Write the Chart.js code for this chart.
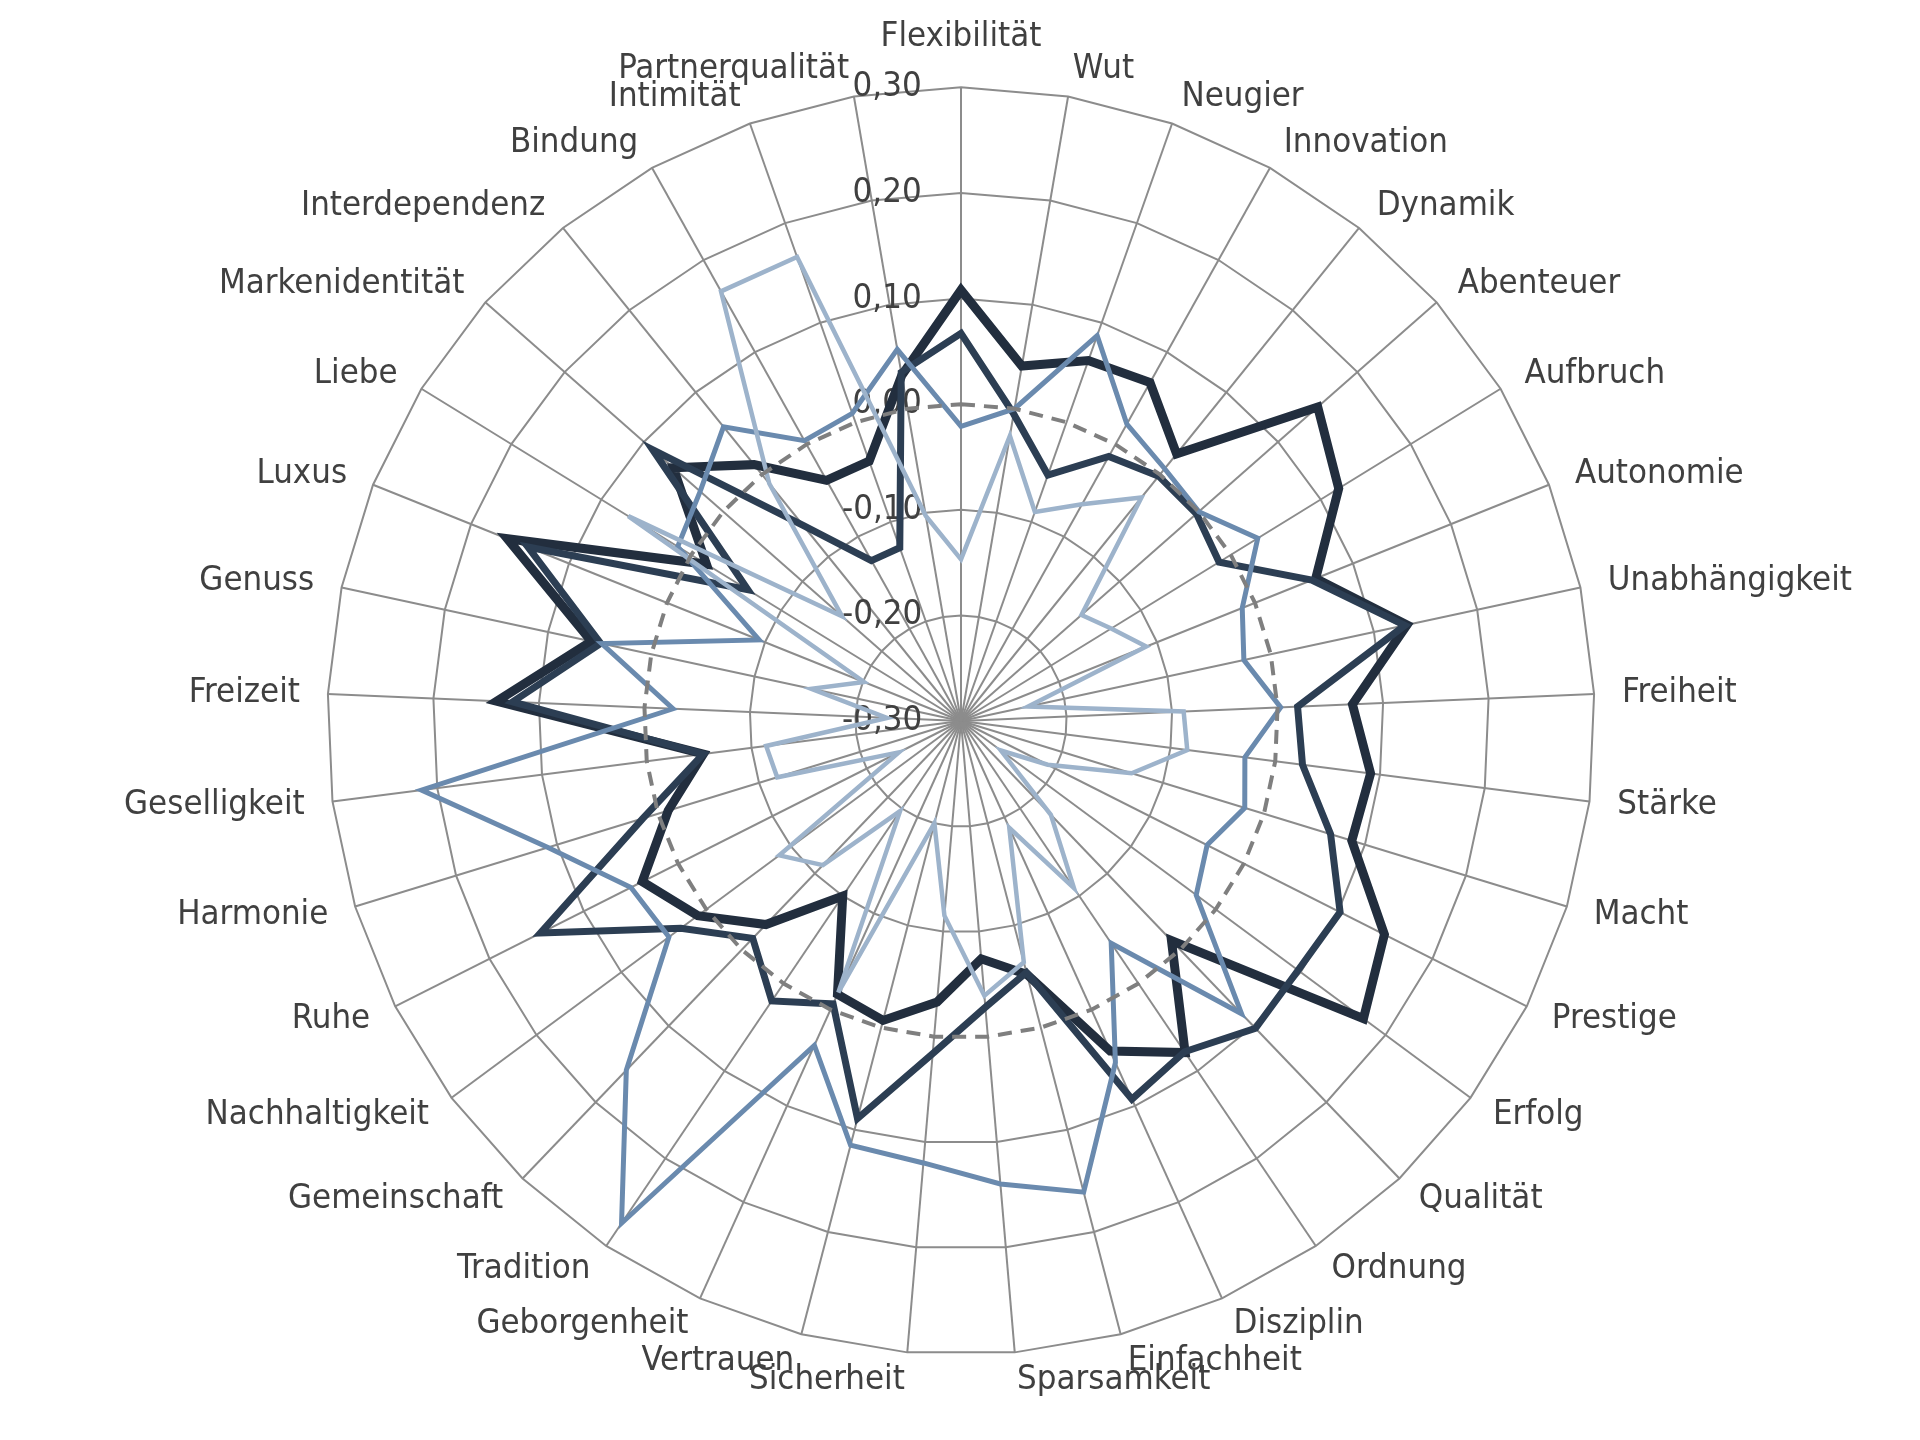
<!DOCTYPE html>
<html>
<head>
<meta charset="utf-8">
<title>Radar</title>
<script src="https://cdn.jsdelivr.net/npm/chart.js@4/dist/chart.umd.min.js"></script>
<style>
  html, body { margin: 0; padding: 0; background: #ffffff; overflow: hidden; }
  #c { display: block; }
</style>
</head>
<body>
<canvas id="c" width="1920" height="1440"></canvas>
<script>
// ---------------- data ----------------
const CATEGORIES = [
  'Flexibilität', 'Wut', 'Neugier', 'Innovation', 'Dynamik', 'Abenteuer', 'Aufbruch',
  'Autonomie', 'Unabhängigkeit', 'Freiheit', 'Stärke', 'Macht', 'Prestige', 'Erfolg',
  'Qualität', 'Ordnung', 'Disziplin', 'Einfachheit', 'Sparsamkeit', 'Sicherheit',
  'Vertrauen', 'Geborgenheit', 'Tradition', 'Gemeinschaft', 'Nachhaltigkeit', 'Ruhe',
  'Harmonie', 'Geselligkeit', 'Freizeit', 'Genuss', 'Luxus', 'Liebe', 'Markenidentität',
  'Interdependenz', 'Bindung', 'Intimität', 'Partnerqualität'
];

const SERIES_1 = [
  0.108, 0.041, 0.062, 0.067, 0.025, 0.150, 0.120, 0.062, 0.132, 0.071, 0.091, 0.087,
  0.149, 0.174, -0.012, 0.079, 0.043, -0.052, -0.074, -0.033, -0.007, -0.016, -0.100,
  -0.033, 0.010, 0.038, -0.010, -0.054, 0.140, 0.058, 0.163, -0.017, 0.063, 0.012,
  -0.039, -0.039, 0.032
];

const SERIES_2 = [
  0.067, -0.005, -0.053, -0.013, -0.002, -0.003, -0.013, 0.058, 0.130, 0.019, 0.026, 0.066,
  0.102, 0.097, 0.103, 0.078, 0.093, -0.054, -0.028, 0.016, 0.089, -0.006, 0.020,
  -0.015, 0.030, 0.146, 0.015, -0.054, 0.125, 0.049, 0.142, -0.063, 0.089, -0.062,
  -0.126, -0.126, 0.035
];

const SERIES_3 = [
  -0.021, 0.000, 0.087, 0.022, 0.007, 0.000, 0.030, -0.013, -0.026, 0.003, -0.029, -0.019,
  -0.039, -0.023, 0.084, -0.046, 0.055, 0.161, 0.140, 0.120, 0.115, 0.037, 0.274,
  0.158, 0.044, 0.050, 0.109, 0.215, -0.027, 0.048, -0.094, 0.015, 0.029, 0.058,
  0.004, 0.009, 0.057
];

const SERIES_4 = [
  -0.147, -0.026, -0.090, -0.065, -0.028, -0.148, -0.133, -0.111, -0.235, -0.089, -0.084, -0.131,
  -0.208, -0.253, -0.177, -0.109, -0.189, -0.064, -0.039, -0.115, -0.200, -0.018, -0.197,
  -0.111, -0.086, -0.234, -0.118, -0.114, -0.230, -0.155, -0.201, 0.070, -0.150, -0.011,
  0.166, 0.166, -0.103
];

const ZERO_LINE = [
  0, 0, 0, 0, 0, 0, 0, 0, 0, 0, 0, 0, 0, 0, 0, 0, 0, 0, 0,
  0, 0, 0, 0, 0, 0, 0, 0, 0, 0, 0, 0, 0, 0, 0, 0, 0, 0
];

const AXIS_MIN = -0.3;
const AXIS_MAX = 0.3;
const AXIS_STEP = 0.1;

// ---------------- font detection ----------------
function detectFont() {
  const c = document.createElement('canvas').getContext('2d');
  const s = 'Flexibilität Unabhängigkeit Partnerqualität';
  const widthOf = (f) => { c.font = f; return c.measureText(s).width; };
  const narrow = ['Liberation Sans Narrow', 'Arial Narrow', 'Nimbus Sans Narrow', 'DejaVu Sans Condensed', 'Roboto Condensed'];
  let fam = '"Liberation Sans", Arial, sans-serif';
  for (const f of narrow) {
    const a = widthOf('44px "' + f + '", monospace');
    const b = widthOf('44px "' + f + '", serif');
    if (Math.abs(a - b) < 0.5) { fam = '"' + f + '"'; break; }
  }
  c.font = '44px ' + fam;
  const w = c.measureText('Flexibilität').width;       // reference width ~162 px
  let size = Math.round(2 * 44 * 162 / w) / 2;
  size = Math.max(30, Math.min(44, size));
  return { family: fam, weight: 'normal', size: size };
}
const FONT = detectFont();
const TEXT_COLOR = '#404040';

// ---------------- geometry targets (reference picture) ----------------
const R_TARGET = 634;     // outer ring radius
const CX = 961, CY = 721; // centre
const LABEL_GAP = 28;     // label anchor distance beyond outer ring
const TOP_GAP = 50;       // top label (index 0) centre distance beyond outer ring
const E = (FONT.size + 4) / 2;           // tick backdrop half-height Chart.js adds to label distance
const P_OPT = LABEL_GAP - E;
const PF_OPT = TOP_GAP - E;
const D0 = Math.ceil(R_TARGET + PF_OPT);
const AREA_H = 2 * D0 + 2 * E + 0.5;
const cBottom = Math.abs(Math.cos(2 * Math.PI * 18 / CATEGORIES.length));
const mBottom = Math.max(0, (P_OPT * cBottom - D0 * (1 - cBottom)) / cBottom);
const shiftY = Math.floor((PF_OPT - mBottom) / 2);
const PAD_TOP = CY - shiftY - AREA_H / 2 + 0.5;
const PAD_BOTTOM = 1440 - PAD_TOP - AREA_H;
const PAD_LEFT = 2 * CX - 1920;
const PAD_RIGHT = 0;

// tick labels: right edge sits TICK_GAP px left of the vertical axis
const TICK_GAP = 41;
const measureCtx = document.createElement('canvas').getContext('2d');
function fmtTick(v) {
  const r = Math.round(v * 100) / 100;
  return (Math.abs(r) < 1e-9 ? 0 : r).toFixed(2).replace('.', ',');
}
function padTick(txt) {
  measureCtx.font = FONT.weight + ' ' + FONT.size + 'px ' + FONT.family;
  const w = measureCtx.measureText(txt).width;
  const sw = measureCtx.measureText('          ').width / 10;
  const n = Math.max(0, Math.round((w + 2 * TICK_GAP) / sw));
  return txt + ' '.repeat(n);
}

// ---------------- chart ----------------
const ctx = document.getElementById('c').getContext('2d');
new Chart(ctx, {
  type: 'radar',
  data: {
    labels: CATEGORIES,
    datasets: [
      { label: '0', data: ZERO_LINE, borderColor: '#7f7f7f', borderWidth: 4, borderDash: [14, 9], order: 0 },
      { label: 'Serie 4', data: SERIES_4, borderColor: '#9db3cb', borderWidth: 4.5, order: 1 },
      { label: 'Serie 3', data: SERIES_3, borderColor: '#6a8aae', borderWidth: 5, order: 2 },
      { label: 'Serie 2', data: SERIES_2, borderColor: '#2c3e53', borderWidth: 7, order: 3 },
      { label: 'Serie 1', data: SERIES_1, borderColor: '#222e3e', borderWidth: 9, order: 4 }
    ]
  },
  options: {
    responsive: false,
    devicePixelRatio: 1,
    animation: false,
    layout: { padding: { top: PAD_TOP, bottom: PAD_BOTTOM, left: PAD_LEFT, right: PAD_RIGHT } },
    plugins: { legend: { display: false }, tooltip: { enabled: false }, title: { display: false } },
    elements: {
      point: { radius: 0, hoverRadius: 0 },
      line: { tension: 0, fill: false, borderJoinStyle: 'miter', backgroundColor: 'rgba(0,0,0,0)' }
    },
    scales: {
      r: {
        min: AXIS_MIN,
        max: AXIS_MAX,
        startAngle: 0,
        ticks: {
          stepSize: AXIS_STEP,
          showLabelBackdrop: false,
          color: TEXT_COLOR,
          font: { family: FONT.family, size: FONT.size, weight: FONT.weight },
          callback: (v) => padTick(fmtTick(v))
        },
        grid: {
          circular: false,
          color: '#8c8c8c',
          lineWidth: (c) => (c.tick && Math.abs(c.tick.value) < 1e-9) ? 0 : 2
        },
        angleLines: { color: '#8c8c8c', lineWidth: 2 },
        pointLabels: {
          display: true,
          padding: (c) => c.index === 0 ? PF_OPT : P_OPT,
          color: TEXT_COLOR,
          font: { family: FONT.family, size: FONT.size, weight: FONT.weight, lineHeight: 0.01 }
        }
      }
    }
  }
});
</script>
</body>
</html>
